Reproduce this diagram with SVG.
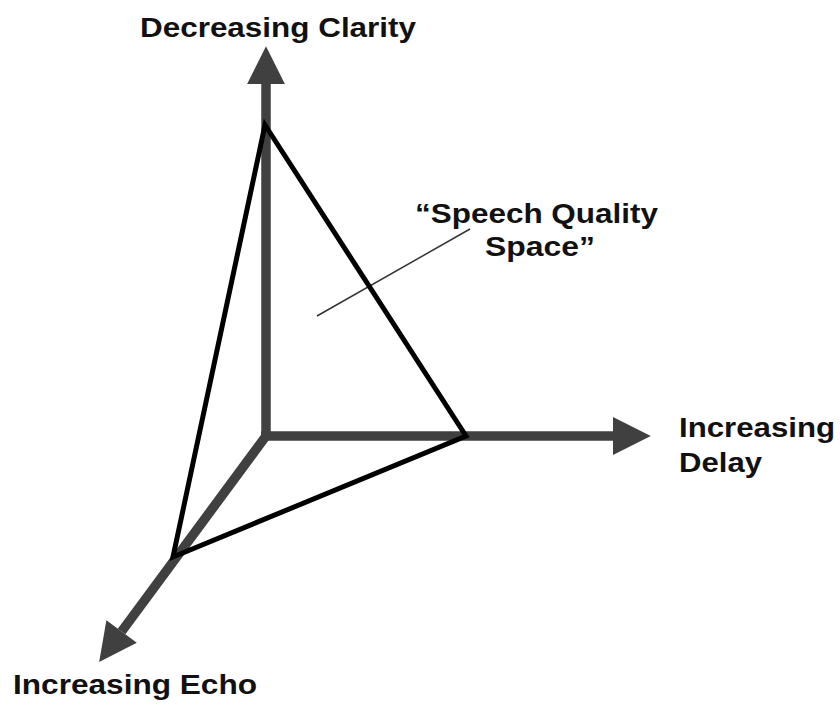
<svg xmlns="http://www.w3.org/2000/svg" width="840" height="705" viewBox="0 0 840 705">
<style>
.axis{stroke:#404040;stroke-width:9.5;fill:none;marker-end:url(#ah)}
.tri{stroke:#000;stroke-width:5;fill:none;stroke-linejoin:miter}
.lead{stroke:#333;stroke-width:1.5}
text{font-family:"Liberation Sans",Arial,sans-serif;font-weight:bold;font-size:28px;fill:#111}
</style>
<defs>
<marker id="ah" markerUnits="userSpaceOnUse" markerWidth="40" markerHeight="40" viewBox="0 -18 36 36" refX="0" refY="0" orient="auto" overflow="visible">
<path d="M0,-17 L34,0 L0,17 Z" fill="#404040"/>
</marker>
</defs>
<rect width="840" height="705" fill="#fff"/>
<g id="connectors">
<line class="axis" x1="266" y1="436" x2="266" y2="84"/>
<line class="axis" x1="261" y1="436" x2="613" y2="436"/>
<line class="axis" x1="266" y1="436" x2="121.6" y2="631.5"/>
<line class="lead" x1="317" y1="316" x2="470" y2="229"/>
</g>
<g id="triangle">
<polygon class="tri" points="265,125 466,436 173,557"/>
</g>
<g id="label-clarity"><text x="140" y="37" textLength="276" lengthAdjust="spacingAndGlyphs">Decreasing Clarity</text></g>
<g id="label-delay">
<text x="679" y="437" textLength="156" lengthAdjust="spacingAndGlyphs">Increasing</text>
<text x="679" y="472" textLength="83" lengthAdjust="spacingAndGlyphs">Delay</text>
</g>
<g id="label-echo"><text x="13" y="694" textLength="244" lengthAdjust="spacingAndGlyphs">Increasing Echo</text></g>
<g id="label-space">
<text x="415" y="223" textLength="243" lengthAdjust="spacingAndGlyphs">“Speech Quality</text>
<text x="485" y="256" textLength="110" lengthAdjust="spacingAndGlyphs">Space”</text>
</g>
</svg>
